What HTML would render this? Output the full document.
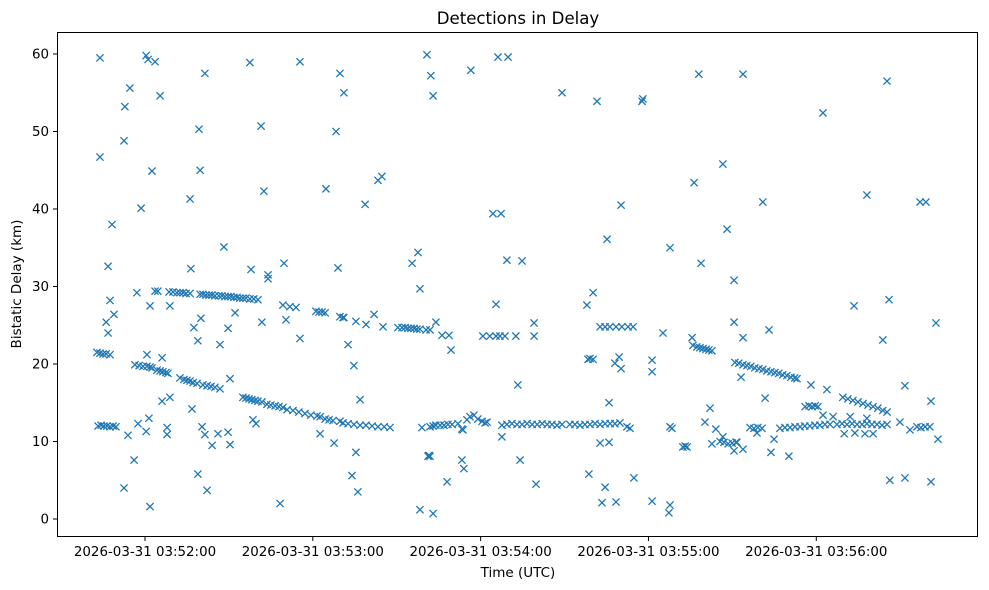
<!DOCTYPE html>
<html><head><meta charset="utf-8"><style>
body{margin:0;background:#fff;}
svg{display:block;font-family:"DejaVu Sans","Liberation Sans",sans-serif;}
</style></head><body>
<svg id="chart" width="989" height="590" xmlns="http://www.w3.org/2000/svg">
<rect width="989" height="590" fill="#fff"/>
<text x="518" y="24" font-size="16.6" text-anchor="middle">Detections in Delay</text>
<text x="518" y="577" font-size="13.5" text-anchor="middle">Time (UTC)</text>
<text x="21" y="284" font-size="13.5" text-anchor="middle" transform="rotate(-90 21 284)">Bistatic Delay (km)</text>
<g id="ticks"></g>
<g id="marks"></g>
<rect x="57.5" y="32.5" width="920" height="504" fill="none" stroke="#000" stroke-width="1"/>
</svg>
<script>
// seconds relative to 2026-03-31 03:52:00 UTC
const xTickSeconds = [0, 60, 120, 180, 240];
const xTickLabels = ["2026-03-31 03:52:00","2026-03-31 03:53:00","2026-03-31 03:54:00","2026-03-31 03:55:00","2026-03-31 03:56:00"];
const yTickValues = [0, 10, 20, 30, 40, 50, 60];
const timesS = [
-16.1,-16.1,-13.9,-13.2,-13.2,-12.5,-11.8,-11.1,-7.5,-7.5,-7.2,-6.1,-5.4,-3.9,-2.9,-2.5,-1.4,0.4,0.4,1.1,0.7,1.4,1.8,1.8,2.5,3.6,5.4,6.1,6.1,7.9,7.9,8.9,8.9,
16.1,16.4,16.8,17.5,18.9,18.9,19.3,19.7,20,20.4,21.4,21.4,22.2,24,26.1,26.8,28.2,29.7,29.7,30.4,30.4,32.2,37.5,37.9,38.6,39.7,41.5,41.8,42.5,44,44,48.3,49.7,50.4,55.4,55.4,
62.6,64.7,67.6,68.3,69,69.7,71.1,71.1,72.6,74,74.7,75.4,76.1,76.9,78.7,81.9,83.3,84.7,
3.6,4.6,8.6,10,11.4,12.5,13.6,14.7,16.1,19.7,20.7,21.8,22.9,23.9,25,26.4,27.5,28.6,29.7,30.7,31.8,32.9,33.9,35,36.1,37.5,38.9,40.4,
49.3,51.8,54,61.1,62.2,63.3,64.4,69.7,70.8,75.4,79,85.1,90.4,91.9,93,94,95.1,96.2,97.2,98.3,100.5,101.9,
-17.2,-16.1,-15,-13.9,-12.5,-3.6,-2.1,-0.7,0.7,1.8,2.5,4.3,5.4,6.4,7.5,8.2,12.5,13.9,15,16.1,17.2,18.6,20.7,22.2,23.6,25,26.8,
35,36.1,37.2,38.2,39.3,40.4,41.8,43.6,45,46.5,47.9,49.3,50.8,52.9,55,57.2,59.3,61.5,62.6,64.4,65.8,67.2,69.7,
70.8,72.6,74.7,76.9,79,81.2,83.3,85.5,87.6,-16.8,-15.7,-14.7,-13.6,-12.5,-11.4,-10.4,
100.8,102.2,103,116.5,126.2,129.8,149.1,161.6,177.7,178,124.4,127.3,170.2,165.2,187.7,95.5,97.6,129.4,134.8,98.3,125.5,158,160.2,104,139.1,139.1,185.2,106.2,108.7,109.4,
120.8,123.3,125.5,126.9,128.7,132.6,162.7,164.5,166.2,168.4,170.5,172.7,174.5,
158.4,159.1,160.2,168,169.5,170.2,181.3,181.3,133.3,165.9,
99,101.9,103,104,105.5,106.9,108.3,109.8,111.9,113.3,115.1,116.2,117.6,119,120.5,121.6,122.3,
127.6,129.4,131.2,133,134.8,136.6,138.4,140.2,142,143.8,145.5,147.3,149.1,
151.9,153.7,155.5,157.3,159.1,160.9,162.7,164.5,166.3,168,169.8,172.3,173.4,187.7,
101.2,101.5,101.9,113.3,114,108,98.3,103,127.6,134.1,139.8,158.7,162.7,165.9,164.5,174.8,163.4,168.4,181.3,187.7,187.3,113.7,
198,213.8,265.3,242.4,206.6,196.3,220.9,258.1,277.1,279.2,208.1,198.8,210.6,253.5,266,282.8,210.6,223.1,213.8,263.8,195.6,
195.9,197.3,198.4,199.5,200.6,201.6,202.7,
210.9,212.3,213.8,215.2,216.6,218,219.5,220.9,222.3,223.8,225.2,226.6,228,229.5,230.9,232.3,233.1,
213.1,238.1,243.8,271.7,281,221.7,
249.5,251.3,253.1,254.9,256.7,258.5,260.3,262,263.8,265.3,
236,237.4,238.5,239.6,240.6,
202,200.2,204.1,206.6,211.6,210.6,213.8,205.6,207,208.5,209.9,211.3,192.3,193.1,193.8,202.7,188.4,
216.3,217.7,219.1,220.6,218.8,224.9,223.8,230.2,
227,228.8,230.6,232.4,234.2,235.9,237.7,239.5,241.3,243.1,244.9,
247.4,249.2,251,252.8,254.6,256.4,258.1,259.9,261.7,263.5,265.3,250,253.8,257.4,260.3,
242.4,246,252.1,258.1,269.9,273.5,276,277.4,278.9,280.6,283.5,266.3,271.7,281
];
const delaysKm = [
59.5,46.7,25.4,32.6,24,28.2,38,26.4,48.8,4,53.2,10.8,55.6,7.6,29.2,12.3,40.1,59.8,11.3,59.3,21.2,13,27.5,1.6,44.9,59,54.6,15.2,20.8,11.8,10.9,15.7,27.5,
41.3,32.3,14.2,24.7,5.8,23,50.3,45,25.9,11.9,57.5,10.9,3.7,9.5,11,22.5,35.1,24.6,11.2,18.1,9.6,26.6,58.9,32.2,12.8,12.3,50.7,25.4,42.3,31.5,31,2,33,25.7,59,23.3,
11,42.6,9.8,50,32.4,57.5,55,26,22.5,5.6,19.8,8.6,3.5,15.4,40.6,26.4,43.7,44.2,
29.4,29.4,29.3,29.3,29.2,29.2,29.2,29.1,29.1,29,29,28.9,28.9,28.9,28.8,28.8,28.8,28.7,28.7,28.7,28.6,28.6,28.5,28.5,28.5,28.4,28.4,28.3,
27.6,27.4,27.3,26.8,26.7,26.7,26.6,26.1,26,25.5,25.1,24.8,24.7,24.7,24.7,24.6,24.6,24.6,24.5,24.5,24.4,24.4,
21.5,21.4,21.3,21.3,21.2,19.9,19.8,19.7,19.7,19.6,19.5,19.2,19.1,19,18.9,18.8,18.2,18,17.9,17.8,17.6,17.5,17.3,17.2,17.1,17,16.8,
15.7,15.6,15.5,15.4,15.3,15.2,15.1,14.8,14.7,14.6,14.5,14.4,14.1,14,13.8,13.6,13.4,13.3,13.2,12.9,12.8,12.7,12.6,
12.4,12.3,12.2,12.1,12.1,12,11.9,11.9,11.8,12,12.1,12,12,11.9,12,11.9,
59.9,57.2,54.6,57.9,59.6,59.6,55,53.9,53.9,54.2,39.4,39.4,40.5,36.1,35,33,34.4,33.4,33.3,29.7,27.7,27.6,29.2,25.4,25.3,23.6,24,23.7,23.7,21.8,
23.6,23.6,23.6,23.6,23.6,23.6,24.8,24.8,24.8,24.8,24.8,24.8,24.8,
20.6,20.7,20.6,20.1,20.9,19.4,20.5,19,17.3,15,
11.8,11.9,12,12.1,12.1,12.1,12.2,12.2,12.3,11.6,12.8,13.2,13.4,12.9,12.6,12.4,12.5,
12.1,12.2,12.3,12.2,12.2,12.3,12.2,12.2,12.3,12.2,12.2,12.1,12.2,
12.2,12.2,12.1,12.2,12.2,12.3,12.2,12.3,12.3,12.3,12.4,11.9,11.7,11.9,
8.1,8.2,8.1,7.6,6.5,4.8,1.2,0.7,10.6,7.6,4.5,5.8,9.8,9.9,4.1,5.3,2.1,2.2,2.3,1.8,0.8,11.5,
57.4,57.4,56.5,52.4,45.8,43.4,40.9,41.8,40.9,40.9,37.4,33,30.8,27.5,28.3,25.3,25.4,24.4,23.4,23.1,23.4,
22.4,22.2,22.1,22,21.9,21.8,21.7,
20.2,20.1,19.9,19.8,19.7,19.5,19.4,19.3,19.1,19,18.9,18.8,18.6,18.5,18.3,18.2,18.1,
18.3,17.3,16.7,17.2,15.2,15.6,
15.7,15.5,15.3,15.1,14.9,14.7,14.5,14.3,14,13.8,
14.5,14.6,14.5,14.6,14.5,
14.3,12.5,11.6,10.6,9.9,8.8,9,10,9.9,9.7,9.8,9.9,9.3,9.4,9.3,9.7,11.7,
11.8,11.7,11.8,11.7,11.1,10.3,8.6,8.1,
11.7,11.8,11.8,11.9,11.9,12,12,12.1,12.1,12.2,12.2,
12.2,12.3,12.2,12.3,12.2,12.2,12.3,12.2,12.2,12.1,12.2,11,11.1,11,11,
13.4,13.2,13.2,13,12.5,11.5,11.9,11.8,11.9,11.9,10.3,5,5.3,4.8
];
const NS = "http://www.w3.org/2000/svg";
function xScale(s){ return 145 + s * 2.797; }
function yScale(v){ return 519 - v * 7.75; }
const ticks = document.getElementById("ticks");
const marks = document.getElementById("marks");
function mk(tag, attrs, parent){ const e = document.createElementNS(NS, tag); for (const k in attrs) e.setAttribute(k, attrs[k]); parent.appendChild(e); return e; }
yTickValues.forEach(v => {
  const y = yScale(v);
  const t = mk("line", {x1:57.5, x2:53, y1:y, y2:y, stroke:"#000"}, ticks);
  
  
  const l = mk("text", {x:49, y:y+4.7, "font-size":13.4, "text-anchor":"end"}, ticks);
  l.textContent = v;
  
  
});
xTickSeconds.forEach((s, i) => {
  const x = xScale(s);
  const t = mk("line", {x1:x, x2:x, y1:536.5, y2:541, stroke:"#000"}, ticks);
  
  
  const l = mk("text", {x:x, y:556, "font-size":13.4, "text-anchor":"middle"}, ticks);
  l.textContent = xTickLabels[i];
  
  
});
const n = Math.min(timesS.length, delaysKm.length);
for (let i = 0; i < n; i++) {
  const x = xScale(timesS[i]), y = yScale(delaysKm[i]), r = 3.6;
  const p = mk("path", {d:`M${x-r},${y-r}L${x+r},${y+r}M${x-r},${y+r}L${x+r},${y-r}`, stroke:"#1f77b4", "stroke-width":1.3, fill:"none"}, marks);
  
  
}
</script>
</body></html>
